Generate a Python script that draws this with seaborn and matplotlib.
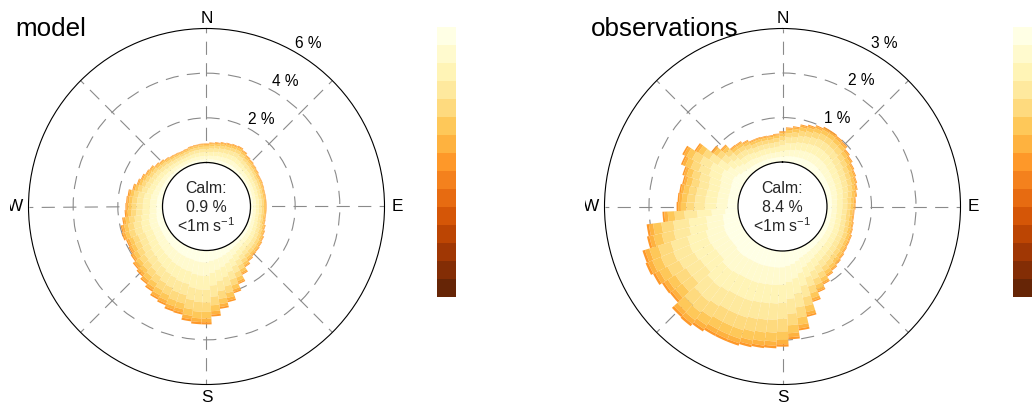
import numpy as np
import matplotlib
matplotlib.use("Agg")
import matplotlib as mpl
import matplotlib.pyplot as plt
import seaborn as sns
from matplotlib.transforms import Bbox, TransformedBbox

# ---------------- data ----------------
directions = np.arange(0, 360, 5)          # wind direction bin centres (deg)

# total frequency (%) of each 5-degree direction bin
model_total = [0.85, 0.90, 0.94, 0.99, 1.03, 1.07, 1.10, 1.03, 0.94, 0.90,
               0.85, 0.81, 0.76, 0.76, 0.74, 0.72, 0.72, 0.72, 0.72, 0.72,
               0.72, 0.74, 0.81, 0.87, 0.94, 0.99, 1.03, 1.05, 1.12, 1.25,
               1.48, 1.79, 2.10, 2.42, 2.65, 2.96, 3.31, 3.31, 3.22, 2.99,
               2.96, 2.82, 2.73, 2.55, 2.42, 2.28, 2.19, 2.06, 1.97, 1.93,
               2.01, 1.97, 1.84, 1.70, 1.66, 1.63, 1.59, 1.43, 1.30, 1.21,
               1.12, 1.07, 0.96, 0.90, 0.83, 0.78, 0.76, 0.74, 0.76, 0.81,
               0.83, 0.85]
obs_total = [0.69, 0.78, 0.82, 0.89, 0.93, 0.98, 1.02, 1.02, 1.00, 0.98,
             0.91, 0.87, 0.82, 0.79, 0.76, 0.73, 0.69, 0.65, 0.64, 0.62,
             0.62, 0.64, 0.66, 0.69, 0.70, 0.72, 0.75, 0.78, 0.82, 0.87,
             0.98, 1.09, 1.25, 1.54, 1.81, 1.99, 2.15, 2.19, 2.21, 2.24,
             2.28, 2.28, 2.28, 2.33, 2.39, 2.37, 2.19, 2.21, 2.28, 2.33,
             2.30, 2.12, 2.08, 1.70, 1.38, 1.36, 1.34, 1.31, 1.36, 1.47,
             1.54, 1.34, 1.02, 0.89, 0.75, 0.74, 0.69, 0.64, 0.64, 0.63,
             0.62, 0.64]

# share of each wind-speed class (lowest first) in a direction bin
model_speed_share = [0.16, 0.18, 0.19, 0.17, 0.13, 0.09, 0.05, 0.03]
obs_speed_share = [0.17, 0.18, 0.19, 0.17, 0.13, 0.09, 0.045, 0.025]

calm_values = ["0.9", "8.4"]
titles = ["model", "observations"]
model_rings = [2, 4, 6]
obs_rings = [1, 2, 3]
n_levels = 15

# ---------------- style ----------------
sns.set_theme(style="white")
plt.rcParams['font.family'] = ['Liberation Sans', 'DejaVu Sans']
plt.rcParams['mathtext.fontset'] = 'custom'
plt.rcParams['mathtext.rm'] = 'Liberation Sans'
plt.rcParams['mathtext.it'] = 'Liberation Sans:italic'
plt.rcParams['mathtext.bf'] = 'Liberation Sans:bold'
plt.rcParams['lines.scale_dashes'] = False

W, H = 1032, 411
fig = plt.figure(figsize=(W / 100, H / 100), dpi=100)
fig.patch.set_facecolor('white')

cmap = sns.color_palette("YlOrBr", as_cmap=True)
level_colors = cmap(np.linspace(0, 1, n_levels))

GRID = '#8a8a8a'
DASH = (0, (9.5, 6.0))


def panel(cx, cy, R, r_in, rings, totals, shares, calm, title, title_x,
          clip_x0, cbar_x):
    rmax = rings[-1]
    ro = -r_in * rmax / (R - r_in)

    def px2r(px):
        return px / R * (rmax - ro) + ro

    def r2px(v):
        return (v - ro) / (rmax - ro) * R

    ax = fig.add_axes([(cx - R) / W, 1 - (cy + R) / H, 2 * R / W, 2 * R / H],
                      projection='polar')
    ax.set_theta_zero_location('N')
    ax.set_theta_direction(-1)
    ax.set_ylim(0, rmax)
    ax.set_rorigin(ro)
    ax.set_facecolor('none')
    ax.set_thetagrids(range(0, 360, 45), labels=[''] * 8)
    ax.set_rgrids(rings[:-1], labels=[''] * (len(rings) - 1))
    ax.grid(True, color=GRID, lw=0.8, ls=DASH)
    ax.set_axisbelow(True)
    ax.tick_params(pad=0, length=0)
    ax.spines['polar'].set_color('black')
    ax.spines['polar'].set_linewidth(0.8)
    ax.spines['inner'].set_color('black')
    ax.spines['inner'].set_linewidth(0.9)

    totals = np.asarray(totals)
    theta = np.deg2rad(directions)
    width = np.deg2rad(5)
    bottom = np.zeros_like(totals)
    for k, s in enumerate(shares):
        h = totals * s
        ax.bar(theta, h, width=width, bottom=bottom, color=level_colors[k],
               linewidth=0, align='center', zorder=2)
        bottom = bottom + h

    # ring labels
    for v in rings:
        ax.text(np.deg2rad(32), px2r(r2px(v) + 14.5), f"{v} %", ha='center',
                va='center', fontsize=11.2, color='black', clip_on=False)

    # cardinal labels
    card = [("N", 0, 188.5), ("E", 90, 191), ("S", 180, 190.5), ("W", 270, 191)]
    for lab, ang, dist in card:
        t = ax.text(np.deg2rad(ang), px2r(dist), lab, ha='center',
                    va='center', fontsize=12.4, color='black')
        if lab == "W":
            t.set_clip_on(True)
            t.set_clip_box(TransformedBbox(Bbox([[clip_x0 / W, 0], [1, 1]]),
                                           fig.transFigure))
        else:
            t.set_clip_on(False)

    # calm text
    for txt, dy in [("Calm:", 13.2), (f"{calm} %", -5.8),
                    (r"<1m s$^{-1}$", -25.2)]:
        ax.annotate(txt, xy=(0.5, 0.5), xycoords='axes fraction',
                    xytext=(0, dy), textcoords='offset pixels',
                    ha='center', va='baseline', fontsize=11.4)

    fig.text(title_x / W, 1 - 35.5 / H, title, ha='left', va='baseline',
             fontsize=18.7, color='black')

    # colour key
    cax = fig.add_axes([cbar_x / W, 1 - 297 / H, 19 / W, 270 / H])
    norm = mpl.colors.BoundaryNorm(np.arange(n_levels + 1), n_levels)
    sm = mpl.cm.ScalarMappable(norm=norm,
                               cmap=mpl.colors.ListedColormap(level_colors[::-1]))
    cb = fig.colorbar(sm, cax=cax, orientation='vertical')
    cb.outline.set_visible(False)
    cb.set_ticks([])
    cax.minorticks_off()
    cax.tick_params(which='both', length=0, left=False, right=False,
                    labelleft=False, labelright=False)
    return ax


panel(206.5, 206.5, 178, 44, model_rings, model_total, model_speed_share,
      calm_values[0], titles[0], 15, 10, 437)
panel(782.5, 206.5, 178, 44.5, obs_rings, obs_total, obs_speed_share,
      calm_values[1], titles[1], 590.7, 585, 1013)

fig.savefig("out.png", dpi=100, facecolor='white')
